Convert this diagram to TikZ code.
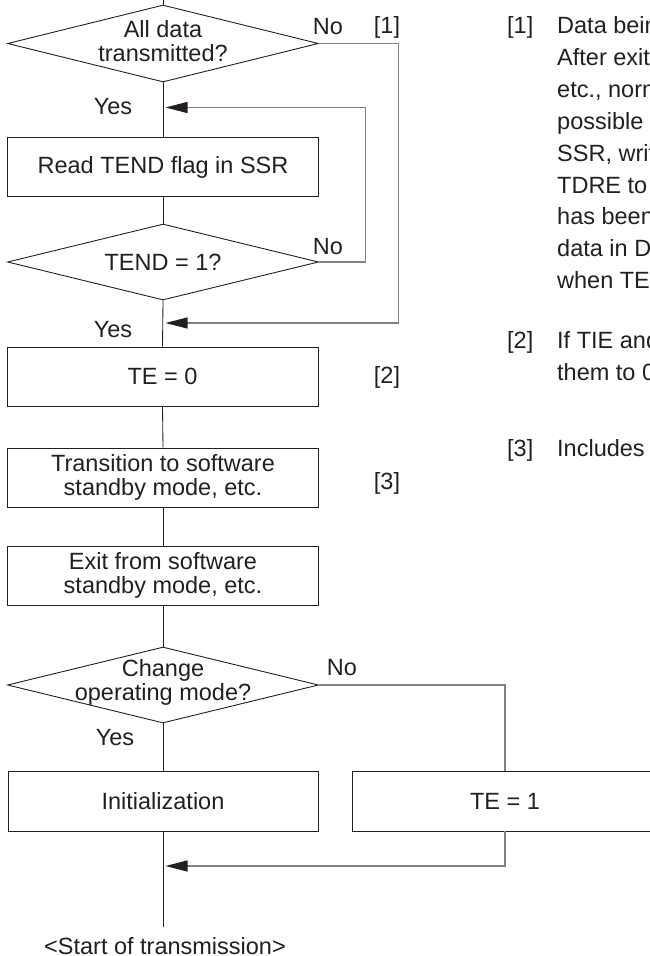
\documentclass[tikz,border=0pt]{standalone}
\usepackage{fontspec}
\setmainfont{Liberation Sans}
\usetikzlibrary{shapes.geometric,arrows.meta}
\definecolor{ink}{HTML}{231F20}
\definecolor{wire}{HTML}{808080}
\newcommand\fsz{\fontsize{23.5}{24}\selectfont}
\begin{document}
\begin{tikzpicture}[x=1pt,y=-1pt,
  every node/.style={font=\fsz, text=ink, inner sep=0pt},
  procbox/.style={draw=ink, line width=0.9pt, minimum width=311pt, minimum height=59pt, align=center},
  decision/.style={diamond, draw=ink, line width=0.9pt, minimum width=311pt, minimum height=77pt},
  mainline/.style={draw=ink, line width=0.85pt},
  sideline/.style={draw=wire, line width=1.1pt},
  arr/.style={sideline, -{Triangle[length=22pt,width=11pt,color=ink]}},
  note/.style={anchor=base west}
]
\useasboundingbox (0,0) rectangle (650,956);
\clip (0,0) rectangle (650,956);

% shapes
\node[decision] (d1) at (163,43.5) {};
\node[align=center] (d1t) at (163,41) {All data\\transmitted?};
\node[procbox] (rd) at (163,167) {Read TEND flag in SSR};
\node[decision, minimum height=76pt] (d2) at (163,262) {};
\node (d2t) at (163,262) {TEND = 1?};
\node[procbox] (te0) at (162.5,376.5) {TE = 0};
\node[procbox] (tr) at (163,477.5) {Transition to software\\standby mode, etc.};
\node[procbox] (ex) at (163,575.5) {Exit from software\\standby mode, etc.};
\node[decision, minimum height=76pt] (d3) at (163,685) {};
\node[align=center] (d3t) at (163,682.5) {Change\\operating mode?};
\node[procbox, minimum width=310pt, minimum height=60pt] (init) at (163,801) {Initialization};
\node[procbox, minimum width=306pt, minimum height=60pt] (te1) at (505,801) {TE = 1};

% junctions
\coordinate (top) at (163,0);
\coordinate (j1) at (165.5,107.5);
\coordinate (j2) at (165.5,323);
\coordinate (j3) at (165.5,866);
\coordinate (bot) at (163,927);

% connectors
\draw[mainline] (top) -- (d1.north);
\draw[mainline] (d1.south) -- (rd.north);
\draw[mainline] (rd.south) -- (d2.north);
\draw[mainline] (d2.south) -- (te0.north);
\draw[mainline] (te0.south) -- (tr.north);
\draw[mainline] (tr.south) -- (ex.north);
\draw[mainline] (ex.south) -- (d3.north);
\draw[mainline] (d3.south) -- (init.north);
\draw[mainline] (init.south) -- (bot);
\draw[arr] (d2.east) -- ++(46.5,0) |- (j1);
\draw[arr] (d1.east) -- ++(79.5,0) |- (j2);
\draw[sideline] (d3.east) -| (te1.north);
\draw[arr] (te1.south) |- (j3);

% labels
\node (no1) at (328,27) {No};
\node (m1) at (387,27) {[1]};
\node (yes1) at (113,107) {Yes};
\node (no2) at (328,247) {No};
\node (yes2) at (113,330) {Yes};
\node (m2) at (387,377) {[2]};
\node (m3) at (387,483) {[3]};
\node (no3) at (342,668) {No};
\node (yes3) at (115,738) {Yes};
\node (start) at (165,946) {<Start of transmission>};

% notes
\node[note] (k1) at (507,33.5) {[1]};
\foreach \t [count=\i] in {Data being transmitted is interrupted.,
  {After exiting software standby mode,},
  {etc., normal CPU transmission is},
  {possible by setting TE to 1, reading},
  {SSR, writing TDR, and clearing},
  {TDRE to 0, but if the DMAC or DTC},
  {has been activated, the remaining},
  data in DMAC/DTC RAM will be transmitted,
  when TE and TIE are set to 1.}
  \node[note] (n1-\i) at (557,{33.5+31.9*(\i-1)}) {\t};
\node[note] (k2) at (507,348.5) {[2]};
\node[note] (n2-1) at (557,348.5) {If TIE and TEIE are set to 1, clear};
\node[note] (n2-2) at (557,380) {them to 0 in the same way.};
\node[note] (k3) at (507,456.5) {[3]};
\node[note] (n3-1) at (557,456.5) {Includes module stop mode.};
\end{tikzpicture}
\end{document}
